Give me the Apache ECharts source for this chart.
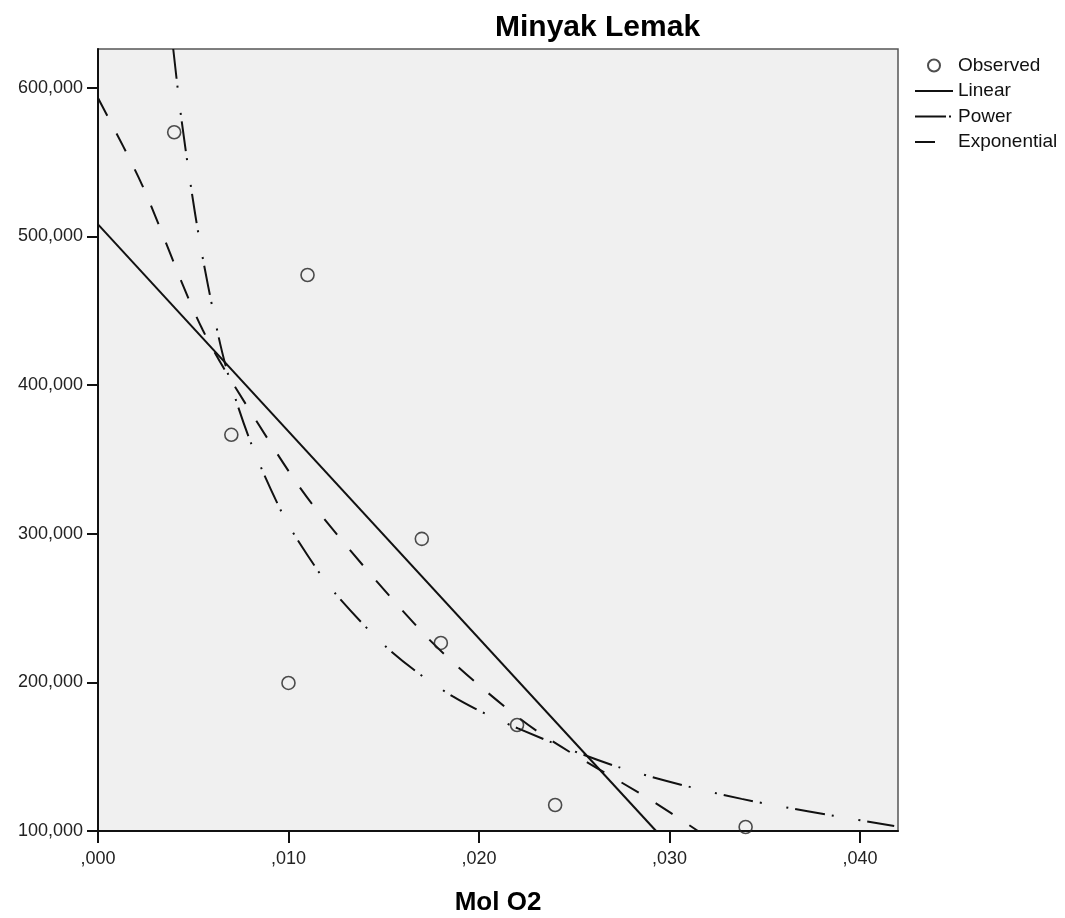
<!DOCTYPE html>
<html>
<head>
<meta charset="utf-8">
<title>Minyak Lemak</title>
<script src="https://cdn.jsdelivr.net/npm/echarts@6/dist/echarts.min.js"></script>
<style>
    html, body { margin: 0; padding: 0; background: #fff; }
    #chart { width: 1065px; height: 918px; }
</style>
</head>
<body>
<div id="chart"></div>
<script>
// observed points
var molO2 = [0.004, 0.007, 0.010, 0.011, 0.017, 0.018, 0.022, 0.024, 0.034];
var observed = [570000, 366500, 199600, 474000, 296500, 226500, 171300, 117500, 102700];

// fitted curves
var linearX = [0, 0.0293];
var linearY = [508000, 100000];

var powerX = [0.00395, 0.00437, 0.0051, 0.00579, 0.00668, 0.008, 0.00974, 0.011, 0.01237, 0.01537, 0.01863, 0.02205, 0.02747, 0.03379, 0.0418];
var powerY = [626000, 579800, 515000, 466000, 414000, 362000, 312000, 285500, 261000, 221000, 190500, 169000, 142400, 121600, 103400];

var expX = [0, 0.0023, 0.0055, 0.0089, 0.0113, 0.017, 0.0201, 0.0233, 0.029, 0.0315];
var expY = [593000, 535000, 437000, 364000, 319000, 234000, 197000, 165000, 121000, 100000];

var xTicks = [0, 0.01, 0.02, 0.03, 0.04];
var yTicks = [100000, 200000, 300000, 400000, 500000, 600000];

function zip(xs, ys) {
    return xs.map(function (x, i) { return [x, ys[i]]; });
}

var font = 'Liberation Sans, Arial, Helvetica, sans-serif';
var hideDot = { opacity: 0 };

var option = {
    animation: false,
    textStyle: { fontFamily: font },
    title: {
        text: 'Minyak Lemak',
        left: 490,
        top: 8,
        textStyle: { fontFamily: font, fontSize: 30, fontWeight: 'bold', color: '#000' }
    },
    legend: {
        orient: 'vertical',
        left: 914,
        top: 56,
        padding: 0,
        itemWidth: 38,
        itemHeight: 12,
        itemGap: 6.5,
        textStyle: { fontFamily: font, fontSize: 19, color: '#111' },
        data: [
            { name: 'Observed' },
            { name: 'Linear', itemStyle: hideDot },
            { name: 'Power', itemStyle: hideDot, lineStyle: { type: [31, 3, 2, 10] } },
            { name: 'Exponential', itemStyle: hideDot }
        ]
    },
    grid: {
        left: 98,
        right: 167,
        top: 49,
        bottom: 87,
        outerBoundsMode: 'none',
        show: true,
        backgroundColor: '#f0f0f0',
        borderColor: '#555',
        borderWidth: 1.5
    },
    xAxis: {
        type: 'value',
        min: 0,
        max: 0.042,
        name: 'Mol O2',
        nameLocation: 'middle',
        nameGap: 59,
        nameTextStyle: { fontFamily: font, fontSize: 26, fontWeight: 'bold', color: '#000' },
        splitLine: { show: false },
        axisLine: { onZero: false, lineStyle: { color: '#111', width: 2 } },
        axisTick: { customValues: xTicks, length: 12, lineStyle: { color: '#111', width: 2 } },
        axisLabel: {
            customValues: xTicks,
            margin: 19,
            fontSize: 18,
            color: '#222',
            formatter: function (v) {
                return v.toFixed(3).replace(/^0\./, ',');
            }
        }
    },
    yAxis: {
        type: 'value',
        min: 100000,
        max: 626000,
        splitLine: { show: false },
        axisLine: { onZero: false, lineStyle: { color: '#111', width: 2 } },
        axisTick: { customValues: yTicks, length: 11, lineStyle: { color: '#111', width: 2 } },
        axisLabel: {
            customValues: yTicks,
            margin: 15,
            fontSize: 18,
            color: '#222',
            formatter: function (v) {
                return v.toLocaleString('en-US');
            }
        }
    },
    series: [
        {
            name: 'Observed',
            type: 'scatter',
            symbol: 'circle',
            symbolSize: 13,
            itemStyle: { color: 'rgba(0,0,0,0)', borderColor: '#222', borderWidth: 1.6 },
            data: zip(molO2, observed),
            z: 5
        },
        {
            name: 'Linear',
            type: 'line',
            symbol: 'none',
            lineStyle: { color: '#111', width: 2 },
            itemStyle: { color: '#111' },
            data: zip(linearX, linearY)
        },
        {
            name: 'Power',
            type: 'line',
            symbol: 'none',
            smooth: 0.3,
            lineStyle: { color: '#111', width: 2, type: [30, 7, 2, 25, 2, 7] },
            itemStyle: { color: '#111' },
            data: zip(powerX, powerY)
        },
        {
            name: 'Exponential',
            type: 'line',
            symbol: 'none',
            smooth: 0.3,
            lineStyle: { color: '#111', width: 2, type: [20, 20] },
            itemStyle: { color: '#111' },
            data: zip(expX, expY)
        }
    ]
};

var myChart = echarts.init(document.getElementById('chart'));
myChart.setOption(option);
</script>
</body>
</html>
